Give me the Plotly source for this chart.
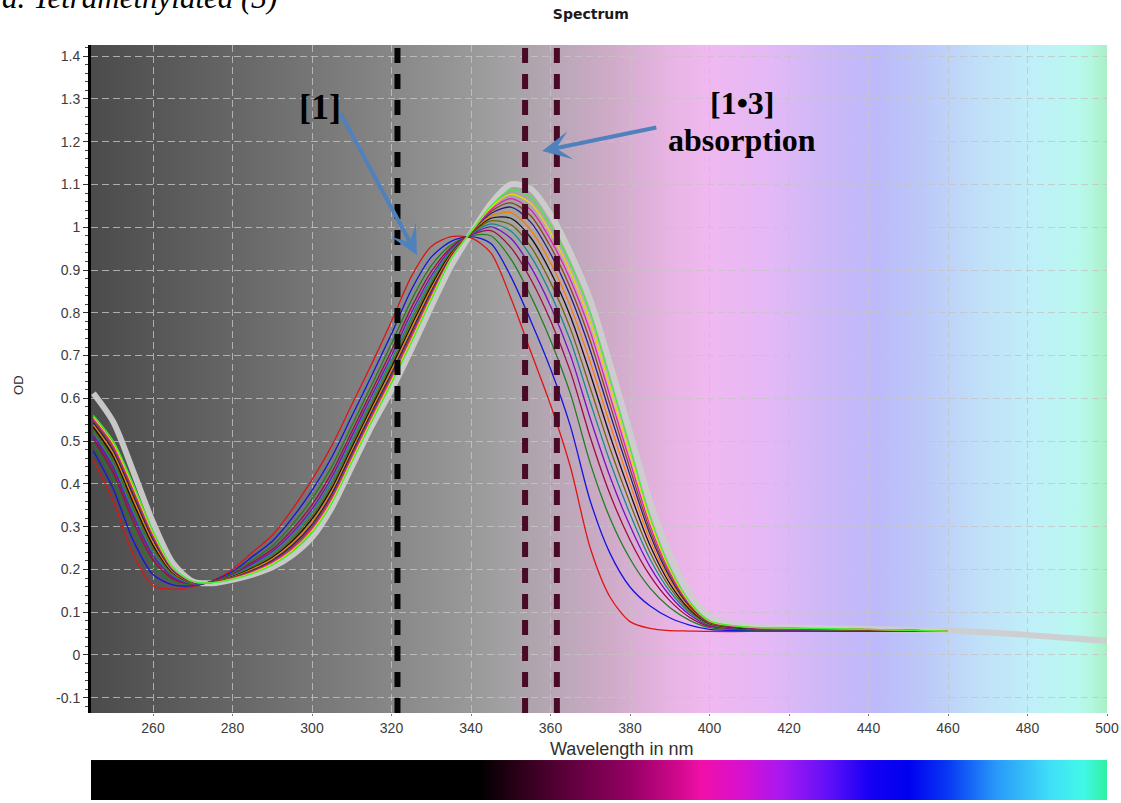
import base64
import plotly.graph_objects as go

# ---------------------------------------------------------------- data
# wavelength grid (nm) of the titration spectra
wavelength = [245, 250, 255, 260, 265, 270, 275, 280, 285, 290, 295, 300,
              305, 310, 315, 320, 325, 330, 335, 340, 345, 350, 355, 360,
              365, 370, 375, 380, 385, 390, 395, 400, 410, 420, 440, 460]
# the last spectrum was recorded out to 500 nm
wavelength_final = wavelength + [480, 500]

# optical density of each spectrum along the titration, first to last
od_00 = [0.456, 0.360, 0.235, 0.162, 0.154, 0.160, 0.174, 0.200, 0.240, 0.280, 0.340, 0.410,
         0.490, 0.585, 0.680, 0.780, 0.885, 0.955, 0.978, 0.975, 0.940, 0.835, 0.710, 0.585,
         0.440, 0.250, 0.135, 0.078, 0.062, 0.057, 0.056, 0.055, 0.055, 0.055, 0.055, 0.055]
od_01 = [0.477, 0.388, 0.268, 0.188, 0.164, 0.162, 0.173, 0.195, 0.230, 0.266, 0.320, 0.385,
         0.463, 0.558, 0.653, 0.751, 0.854, 0.930, 0.967, 0.978, 0.962, 0.885, 0.782, 0.669,
         0.535, 0.360, 0.237, 0.159, 0.115, 0.087, 0.070, 0.060, 0.057, 0.057, 0.056, 0.055]
od_02 = [0.493, 0.410, 0.294, 0.208, 0.172, 0.164, 0.172, 0.192, 0.222, 0.255, 0.304, 0.365,
         0.441, 0.536, 0.631, 0.728, 0.829, 0.910, 0.959, 0.980, 0.980, 0.926, 0.840, 0.736,
         0.611, 0.448, 0.319, 0.225, 0.157, 0.111, 0.081, 0.064, 0.059, 0.058, 0.057, 0.055]
od_03 = [0.505, 0.426, 0.313, 0.222, 0.178, 0.166, 0.172, 0.189, 0.217, 0.247, 0.293, 0.351,
         0.427, 0.522, 0.617, 0.712, 0.812, 0.896, 0.953, 0.982, 0.992, 0.953, 0.879, 0.782,
         0.663, 0.509, 0.375, 0.269, 0.186, 0.127, 0.088, 0.067, 0.060, 0.059, 0.057, 0.055]
od_04 = [0.513, 0.437, 0.326, 0.232, 0.182, 0.167, 0.171, 0.187, 0.213, 0.242, 0.285, 0.341,
         0.416, 0.511, 0.606, 0.700, 0.800, 0.886, 0.949, 0.983, 1.001, 0.974, 0.908, 0.816,
         0.701, 0.553, 0.416, 0.302, 0.207, 0.139, 0.094, 0.069, 0.061, 0.059, 0.058, 0.056]
od_05 = [0.520, 0.447, 0.337, 0.241, 0.186, 0.167, 0.171, 0.186, 0.209, 0.237, 0.278, 0.333,
         0.406, 0.501, 0.596, 0.690, 0.789, 0.878, 0.945, 0.984, 1.008, 0.991, 0.933, 0.845,
         0.735, 0.591, 0.451, 0.330, 0.225, 0.149, 0.099, 0.071, 0.061, 0.060, 0.058, 0.056]
od_06 = [0.527, 0.455, 0.347, 0.249, 0.189, 0.168, 0.171, 0.184, 0.206, 0.232, 0.272, 0.325,
         0.398, 0.493, 0.588, 0.681, 0.780, 0.870, 0.942, 0.985, 1.015, 1.006, 0.955, 0.871,
         0.763, 0.624, 0.482, 0.355, 0.241, 0.158, 0.103, 0.072, 0.062, 0.060, 0.058, 0.056]
od_07 = [0.533, 0.464, 0.357, 0.257, 0.192, 0.169, 0.170, 0.183, 0.203, 0.228, 0.266, 0.318,
         0.390, 0.485, 0.580, 0.673, 0.770, 0.863, 0.939, 0.986, 1.021, 1.021, 0.976, 0.896,
         0.792, 0.657, 0.512, 0.379, 0.257, 0.167, 0.107, 0.074, 0.062, 0.061, 0.059, 0.056]
od_08 = [0.538, 0.471, 0.365, 0.263, 0.194, 0.169, 0.170, 0.182, 0.201, 0.225, 0.261, 0.311,
         0.383, 0.478, 0.573, 0.665, 0.763, 0.856, 0.936, 0.987, 1.027, 1.034, 0.994, 0.917,
         0.815, 0.685, 0.538, 0.400, 0.270, 0.175, 0.111, 0.075, 0.063, 0.061, 0.059, 0.056]
od_09 = [0.543, 0.478, 0.374, 0.270, 0.197, 0.170, 0.170, 0.181, 0.198, 0.221, 0.256, 0.305,
         0.377, 0.472, 0.567, 0.658, 0.755, 0.850, 0.933, 0.988, 1.032, 1.047, 1.012, 0.938,
         0.839, 0.712, 0.563, 0.420, 0.283, 0.182, 0.114, 0.076, 0.063, 0.062, 0.059, 0.056]
od_10 = [0.548, 0.483, 0.380, 0.275, 0.199, 0.171, 0.170, 0.180, 0.196, 0.218, 0.252, 0.300,
         0.371, 0.466, 0.561, 0.652, 0.749, 0.845, 0.931, 0.988, 1.037, 1.057, 1.027, 0.955,
         0.858, 0.734, 0.584, 0.436, 0.293, 0.188, 0.117, 0.077, 0.064, 0.062, 0.059, 0.056]
od_11 = [0.552, 0.489, 0.387, 0.280, 0.201, 0.171, 0.169, 0.179, 0.194, 0.216, 0.248, 0.295,
         0.366, 0.461, 0.556, 0.647, 0.742, 0.840, 0.929, 0.989, 1.041, 1.067, 1.041, 0.971,
         0.877, 0.756, 0.604, 0.452, 0.304, 0.194, 0.119, 0.078, 0.064, 0.062, 0.060, 0.056]
od_12 = [0.556, 0.494, 0.393, 0.285, 0.203, 0.172, 0.169, 0.178, 0.192, 0.213, 0.244, 0.290,
         0.360, 0.455, 0.550, 0.641, 0.736, 0.835, 0.927, 0.989, 1.046, 1.077, 1.056, 0.988,
         0.896, 0.778, 0.625, 0.469, 0.314, 0.200, 0.122, 0.079, 0.065, 0.063, 0.060, 0.056]
od_13 = [0.560, 0.500, 0.400, 0.290, 0.205, 0.172, 0.169, 0.177, 0.190, 0.210, 0.240, 0.285,
         0.355, 0.450, 0.545, 0.635, 0.730, 0.830, 0.925, 0.990, 1.050, 1.087, 1.070, 1.005,
         0.915, 0.800, 0.645, 0.485, 0.325, 0.206, 0.125, 0.080, 0.065, 0.063, 0.060, 0.056]
od_final = [0.612, 0.545, 0.430, 0.310, 0.215, 0.172, 0.168, 0.176, 0.188, 0.205, 0.233, 0.275,
            0.345, 0.440, 0.535, 0.620, 0.715, 0.815, 0.910, 0.985, 1.055, 1.100, 1.090, 1.030,
            0.940, 0.830, 0.680, 0.520, 0.360, 0.235, 0.145, 0.090, 0.067, 0.064, 0.061, 0.057,
            0.047, 0.033]

# wavelengths marked with dashed cursors
cursor_black_nm = [321.5]
cursor_maroon_nm = [353.6, 361.6]

y_tick_vals = [-0.1, 0.0, 0.1, 0.2, 0.3, 0.4, 0.5, 0.6, 0.7, 0.8, 0.9, 1.0, 1.1, 1.2, 1.3, 1.4]
y_tick_text = ["-0.1", "0", "0.1", "0.2", "0.3", "0.4", "0.5", "0.6", "0.7", "0.8", "0.9",
               "1", "1.1", "1.2", "1.3", "1.4"]

# ---------------------------------------------------------------- styling
X_MIN, X_MAX = 244.4, 500.0
Y_MIN, Y_MAX = -0.1356, 1.426

spectra = [od_00, od_01, od_02, od_03, od_04, od_05, od_06,
           od_07, od_08, od_09, od_10, od_11, od_12, od_13]
line_colors = ["#e01414", "#1414e0", "#1f7f1f", "#9a1040", "#7a10c0", "#108c8c", "#6a6a00",
               "#111111", "#f08000", "#202080", "#8b4513", "#e020c0", "#e8d800", "#3cf03c"]

# spectral colour ramp behind the plot area (nm, colour)
plot_bg_stops = [
    (244.4, "#4b4b4b"), (270, "#5e5e5e"), (300, "#767676"), (320, "#878787"),
    (340, "#999999"), (350, "#a4a2a4"), (360, "#b6a6b4"), (375, "#cfabc8"),
    (390, "#e8b4e4"), (400, "#f0b8f0"), (415, "#e4b8f6"), (430, "#ccb8f8"),
    (442, "#bdb9fa"), (455, "#bccaf8"), (468, "#c0e0f8"), (482, "#c0f0f8"),
    (492, "#b8f8f0"), (496, "#b4f6e0"), (500, "#a8f0c4"),
]
# saturated spectrum strip under the axis (nm, colour)
strip_stops = [
    (244.4, "#000000"), (342, "#000000"), (352, "#2c0018"), (366, "#640040"),
    (380, "#940064"), (392, "#d0088c"), (398, "#f010a8"), (408, "#d810d0"),
    (418, "#a818f0"), (430, "#6010f8"), (440, "#1800f4"), (450, "#0000f0"),
    (460, "#0838f4"), (472, "#2898f8"), (486, "#40e0f8"), (494, "#40f8e8"),
    (500, "#30f0a0"),
]


def gradient_uri(stops):
    span = X_MAX - X_MIN
    tags = "".join(
        f'<stop offset="{(nm - X_MIN) / span:.4f}" stop-color="{col}"/>' for nm, col in stops
    )
    svg = ('<svg xmlns="http://www.w3.org/2000/svg" width="1000" height="20" '
           'viewBox="0 0 1000 20" preserveAspectRatio="none">'
           f'<defs><linearGradient id="g" x1="0" y1="0" x2="1" y2="0">{tags}</linearGradient></defs>'
           '<rect x="0" y="0" width="1000" height="20" fill="url(#g)"/></svg>')
    return "data:image/svg+xml;base64," + base64.b64encode(svg.encode()).decode()


GRID = "rgba(196,196,196,0.8)"
TICK_FONT = dict(family="Liberation Sans", size=14, color="#3c3c3c")

fig = go.Figure()

# final spectrum: broad light-grey trace underneath the series
fig.add_trace(go.Scatter(
    x=wavelength_final, y=od_final, mode="lines",
    line=dict(color="rgba(206,206,206,0.95)", width=6, shape="spline", smoothing=0.8),
    hoverinfo="skip", showlegend=False,
))
for od, col in zip(spectra, line_colors):
    fig.add_trace(go.Scatter(
        x=wavelength, y=od, mode="lines",
        line=dict(color=col, width=1.3, shape="spline", smoothing=0.8),
        hoverinfo="skip", showlegend=False,
    ))

for nm in cursor_black_nm:
    fig.add_vline(x=nm, line=dict(color="#050505", width=6, dash="15px,11px"), layer="above")
for nm in cursor_maroon_nm:
    fig.add_vline(x=nm, line=dict(color="#480a24", width=6, dash="15px,11px"), layer="above")

fig.update_layout(
    width=1121, height=803,
    margin=dict(l=91, r=14, t=45, b=90, autoexpand=False),
    paper_bgcolor="white", plot_bgcolor="#8a8a8a",
    showlegend=False,
    title=dict(text="<b>Spectrum</b>", x=0.492, xref="paper", xanchor="center",
               y=1 - 14 / 803, yref="container", yanchor="middle",
               font=dict(family="DejaVu Sans", size=14, color="#1a1a1a")),
    xaxis=dict(
        range=[X_MIN, X_MAX], tick0=0, dtick=20, automargin=False,
        showgrid=True, gridcolor=GRID, griddash="7px,4px", gridwidth=1,
        ticks="outside", ticklen=2, tickcolor="#777", tickfont=TICK_FONT,
        zeroline=False, showline=False,
    ),
    yaxis=dict(
        range=[Y_MIN, Y_MAX], tickmode="array", tickvals=y_tick_vals, ticktext=y_tick_text,
        automargin=False,
        showgrid=True, gridcolor=GRID, griddash="7px,4px", gridwidth=1,
        ticks="outside", ticklen=5, tickcolor="#333", tickfont=TICK_FONT,
        minor=dict(tickmode="linear", tick0=0, dtick=0.02, ticks="outside", ticklen=3,
                   tickcolor="#444", showgrid=False),
        showline=True, linecolor="black", linewidth=3, zeroline=False,
    ),
    images=[
        dict(source=gradient_uri(plot_bg_stops), xref="x", yref="y",
             x=X_MIN, y=Y_MAX, sizex=X_MAX - X_MIN, sizey=Y_MAX - Y_MIN,
             xanchor="left", yanchor="top", sizing="stretch", layer="below"),
        dict(source=gradient_uri(strip_stops), xref="paper", yref="paper",
             x=0, y=-0.0704, sizex=1, sizey=0.0599,
             xanchor="left", yanchor="top", sizing="stretch", layer="below"),
    ],
)

# axis titles
fig.add_annotation(x=0.5217, xref="paper", y=-0.0540, yref="paper", text="Wavelength in nm",
                   showarrow=False, xanchor="center", yanchor="middle",
                   font=dict(family="Liberation Sans", size=18, color="#303030"))
fig.add_annotation(x=-0.0719, xref="paper", y=0.491, yref="paper", text="OD", textangle=-90,
                   showarrow=False, xanchor="center", yanchor="middle",
                   font=dict(family="Liberation Sans", size=13, color="#303030"))

ARROW = "#4f81bd"
SERIF_BOLD = dict(family="Liberation Serif", color="black")
fig.add_annotation(x=302.0, y=1.281, text="<b>[1]</b>", showarrow=False,
                   font=dict(size=36, **SERIF_BOLD))
fig.add_annotation(x=408.2, y=1.290, text="<b>[1\u20223]</b>", showarrow=False,
                   font=dict(size=32, **SERIF_BOLD))
fig.add_annotation(x=408.2, y=1.204, text="<b>absorption</b>", showarrow=False,
                   font=dict(size=32, **SERIF_BOLD))
fig.add_annotation(x=326.4, y=0.935, ax=307.0, ay=1.269, axref="x", ayref="y", text="",
                   showarrow=True, arrowhead=3, arrowsize=1.2, arrowwidth=4, arrowcolor=ARROW)
fig.add_annotation(x=357.9, y=1.178, ax=387.0, ay=1.234, axref="x", ayref="y", text="",
                   showarrow=True, arrowhead=3, arrowsize=1.2, arrowwidth=4, arrowcolor=ARROW)

# panel caption at the top edge of the page
fig.add_annotation(x=-0.0896, xref="paper", xanchor="left", y=1.0419, yref="paper",
                   yanchor="bottom", text="<i>a. Tetramethylated (3)</i>", showarrow=False,
                   font=dict(family="Liberation Serif", size=31, color="black"))

fig.write_html("out.html")
